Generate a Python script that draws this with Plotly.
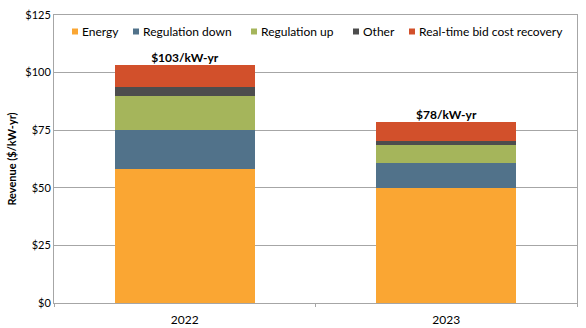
import plotly.graph_objects as go

years = ["2022", "2023"]
energy = [58.2, 50.0]
reg_down = [16.9, 10.9]
reg_up = [14.9, 7.7]
other = [3.9, 1.8]
rt_bcr = [9.4, 8.1]
totals_labels = ["$103/kW-yr", "$78/kW-yr"]
totals = [sum(v) for v in zip(energy, reg_down, reg_up, other, rt_bcr)]

series = [
    ("Energy", energy, "#FAA633"),
    ("Regulation down", reg_down, "#51728A"),
    ("Regulation up", reg_up, "#A5B55B"),
    ("Other", other, "#4D4D4D"),
    ("Real-time bid cost recovery", rt_bcr, "#D2502B"),
]

font_family = "Lato, 'Open Sans', sans-serif"

W, H = 586, 328
ML, MR, MT, MB = 54, 9, 15, 25
PW, PH = W - ML - MR, H - MT - MB

fig = go.Figure()
for name, vals, color in series:
    fig.add_trace(go.Bar(x=years, y=vals, name=name, marker_color=color,
                         marker_line_width=0, showlegend=False))

fig.add_trace(go.Scatter(x=years, y=totals, mode="text",
                         text=["<b>" + t + "</b>" for t in totals_labels],
                         textposition="top center", showlegend=False, hoverinfo="skip",
                         textfont=dict(size=12, color="#000000", family=font_family)))

# legend drawn in a single row inside the plot frame (pixel positions of the entries)
legend_sym_px = [72, 133, 251, 353, 409]
legend_cy_px = 31.5
sym = 6
for (name, _, color), sx in zip(series, legend_sym_px):
    x0 = (sx - ML) / PW
    x1 = (sx + sym - ML) / PW
    y0 = (H - MB - (legend_cy_px + sym / 2)) / PH
    y1 = (H - MB - (legend_cy_px - sym / 2)) / PH
    fig.add_shape(type="rect", xref="paper", yref="paper", x0=x0, x1=x1, y0=y0, y1=y1,
                  fillcolor=color, line_width=0)
    fig.add_annotation(xref="paper", yref="paper", x=(sx + sym + 2 - ML) / PW,
                       y=(H - MB - legend_cy_px) / PH, xanchor="left", yanchor="middle",
                       text=name, showarrow=False,
                       font=dict(size=12, color="#000000", family=font_family))

fig.update_layout(
    width=W, height=H,
    barmode="stack", bargap=0.465,
    margin=dict(l=ML, r=MR, t=MT, b=MB, autoexpand=False),
    paper_bgcolor="white", plot_bgcolor="white",
    font=dict(family=font_family, size=11, color="#000000"),
    showlegend=False,
)
fig.update_yaxes(range=[0, 125], dtick=25, tickprefix="$", showgrid=True,
                 gridcolor="#A6A6A6", gridwidth=1, zeroline=False,
                 showline=True, linecolor="#A6A6A6", mirror=True, automargin=False,
                 tickfont=dict(size=11, color="#000000"),
                 title=dict(text="<b>Revenue ($/kW-yr)</b>", font=dict(size=11), standoff=6))
fig.update_xaxes(type="category", range=[-0.5, 1.5], showline=True, linecolor="#A6A6A6",
                 mirror=True, ticks="outside", tickson="boundaries", ticklen=3,
                 tickcolor="#A6A6A6", ticklabelstandoff=6, automargin=False,
                 tickfont=dict(size=12, color="#000000"))

fig.write_html("out.html")
